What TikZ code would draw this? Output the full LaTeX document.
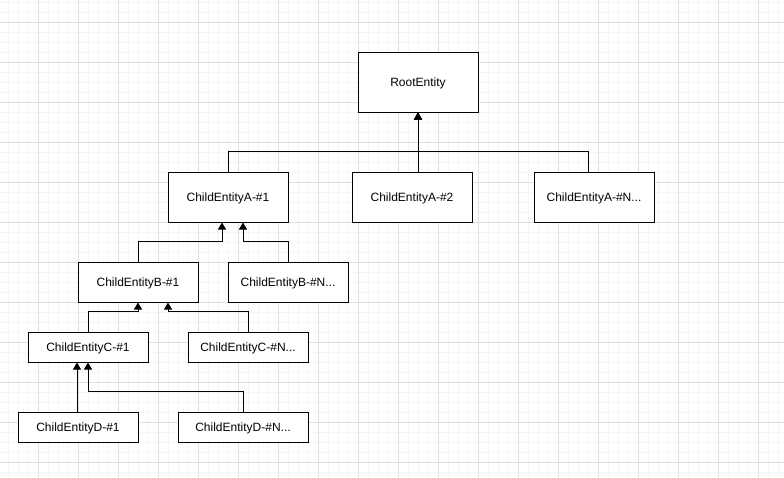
\documentclass[tikz,border=0pt]{standalone}
\usepackage{fontspec}
\setmainfont{Liberation Sans}
\usetikzlibrary{arrows.meta}
\begin{document}
\begin{tikzpicture}[x=1pt,y=-1pt,
  ent/.style={draw=black,line width=1pt,fill=white,minimum width=120pt,inner sep=0pt,text depth=0pt,font=\fontsize{12}{14}\selectfont},
  arr/.style={draw=black,line width=1pt,-{Triangle[width=8pt,length=7pt]}},
  minorgrid/.style={draw=black!4,line width=1pt},
  majorgrid/.style={draw=black!12,line width=1pt}]
\useasboundingbox[fill=white] (0,0) rectangle (784,477);
\foreach \x in {8,18,...,784} \draw[minorgrid] (\x,0) -- (\x,477);
\foreach \y in {2,12,...,477} \draw[minorgrid] (0,\y) -- (784,\y);
\foreach \x in {38,78,...,784} \draw[majorgrid] (\x,0) -- (\x,477);
\foreach \y in {22,62,...,477} \draw[majorgrid] (0,\y) -- (784,\y);

\node[ent,minimum height=60pt] (root) at (418,82) {RootEntity};
\node[ent,minimum height=50pt] (a1) at (228,197) {ChildEntityA-\#1};
\node[ent,minimum height=50pt] (a2) at (412,197) {ChildEntityA-\#2};
\node[ent,minimum height=50pt] (aN) at (594,197) {ChildEntityA-\#N...};
\node[ent,minimum height=40pt] (b1) at (138,282) {ChildEntityB-\#1};
\node[ent,minimum height=40pt] (bN) at (288,282) {ChildEntityB-\#N...};
\node[ent,minimum height=30pt] (c1) at (88,347) {ChildEntityC-\#1};
\node[ent,minimum height=30pt] (cN) at (248,347) {ChildEntityC-\#N...};
\node[ent,minimum height=30pt] (d1) at (78,427) {ChildEntityD-\#1};
\node[ent,minimum height=30pt,minimum width=130pt] (dN) at (243,427) {ChildEntityD-\#N...};

\draw[arr] (a1.north) -- ++(0,-20) -| (root.south);
\draw[arr] (root.south |- a2.north) -- (root.south);
\draw[arr] ([xshift=-6pt]aN.north) -- ++(0,-20) -| (root.south);

\draw[arr] (b1.north) -- ++(0,-20) -| ([xshift=-6pt]a1.south);
\draw[arr] (bN.north) -- ++(0,-20) -| ([xshift=15pt]a1.south);

\draw[arr] (c1.north) -- ++(0,-20) -| (b1.south);
\draw[arr] (cN.north) -- ++(0,-20) -| ([xshift=30pt]b1.south);

\draw[arr] ([xshift=-1pt]d1.north) -- ([xshift=-11pt]c1.south);
\draw[arr] (dN.north) -- ++(0,-20) -| (c1.south);
\end{tikzpicture}
\end{document}
